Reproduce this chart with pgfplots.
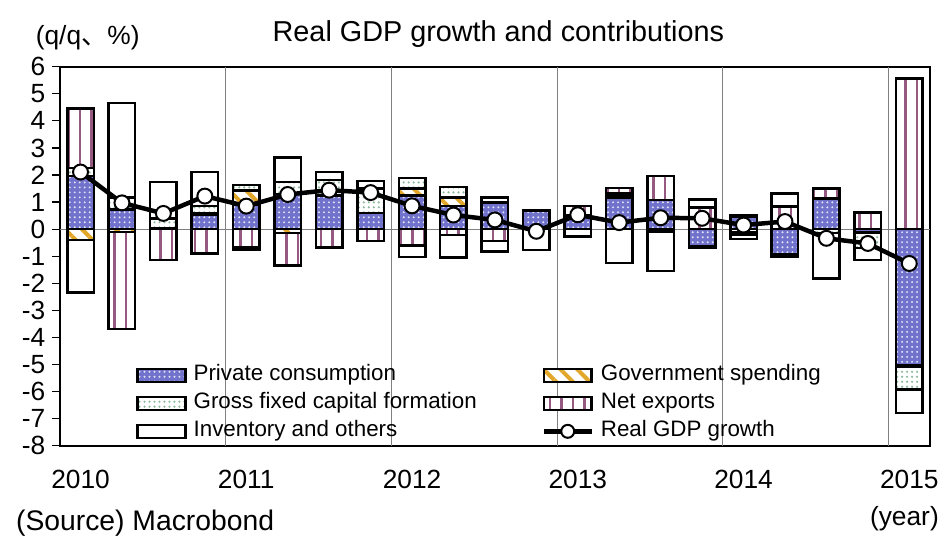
\documentclass[border=0pt]{standalone}
\usepackage{fontspec}
\setmainfont{Liberation Sans}
\newfontfamily\cjk{Noto Sans CJK JP}
\usepackage{pgfplots}
\usepackage{pgfplotstable}
\pgfplotsset{compat=1.18}
\usetikzlibrary{patterns.meta,calc}

\definecolor{pcblue}{RGB}{112,114,204}
\definecolor{govgold}{RGB}{226,166,40}
\definecolor{gfcfgreen}{RGB}{140,185,155}
\definecolor{nepurple}{RGB}{150,90,130}

\pgfplotstableread{
x pc gov gfcf ne inv
0 1.96 0 0.30 2.20 0
1 0.72 0 0.45 0 3.49
2 0.05 0 0.34 0 1.35
3 0.52 0.05 0.28 0 1.26
4 0.90 0.52 0.21 0 0
5 1.29 0 0.45 0 0.90
6 1.25 0 0.57 0 0.30
7 0.60 0 0.90 0 0.28
8 1.25 0.25 0.38 0 0
9 0.86 0.30 0.39 0 0
10 0.98 0 0.18 0 0
11 0.68 0 0 0 0
12 0.45 0 0.05 0.35 0
13 1.15 0.07 0.10 0.20 0
14 1.07 0 0 0.90 0
15 0 0 0 0.80 0.30
16 0.47 0 0 0.06 0
17 0 0 0 0.84 0.48
18 1.14 0 0 0.36 0
19 0 0 0 0.61 0
20 0 0 0 5.56 0
}\pos

\pgfplotstableread{
x pc gov gfcf ne inv
0 0 -0.40 0 0 -1.94
1 0 -0.10 0 -3.60 0
2 0 0 0 -1.14 0
3 0 0 0 -0.90 0
4 0 0 0 -0.68 -0.10
5 0 -0.15 0 -1.20 0
6 0 0 0 -0.68 0
7 0 0 0 -0.43 0
8 0 0 0 -0.60 -0.43
9 0 0 0 -0.22 -0.82
10 0 0 0 -0.43 -0.40
11 0 0 0 0 -0.77
12 0 0 0 0 -0.27
13 0 0 0 0 -1.26
14 0 -0.05 -0.05 0 -1.44
15 -0.62 -0.04 -0.04 0 0
16 0 -0.10 -0.10 0 -0.17
17 -0.92 -0.05 -0.05 0 0
18 0 0 -0.15 0 -1.68
19 -0.12 -0.03 -0.55 0 -0.44
20 -5.02 -0.05 -0.86 0 -0.86
}\neg

\pgfplotstableread{
x gdp
0 2.11
1 0.97
2 0.58
3 1.22
4 0.85
5 1.28
6 1.44
7 1.35
8 0.86
9 0.52
10 0.34
11 -0.08
12 0.53
13 0.24
14 0.42
15 0.40
16 0.15
17 0.28
18 -0.34
19 -0.53
20 -1.27
}\gdp

\pgfplotsset{
  myaxis/.style={scale only axis, width=873bp, height=380bp,
    xmin=-0.5, xmax=20.5, ymin=-8, ymax=6, enlargelimits=false},
  pcstyle/.style={draw=black, line width=2.5bp, preaction={fill=pcblue},
    pattern={Dots[distance=5bp,radius=1.1bp]}, pattern color=white!80!pcblue},
  govstyle/.style={draw=black, line width=2.5bp, preaction={fill=white},
    pattern={Lines[angle=-45,distance=12bp,line width=4bp]}, pattern color=govgold},
  gfcfstyle/.style={draw=black, line width=2.5bp, preaction={fill=white},
    pattern={Dots[distance=5bp,radius=1.2bp]}, pattern color=gfcfgreen},
  nestyle/.style={draw=black, line width=2.5bp, preaction={fill=white},
    pattern={Lines[angle=90,distance=11.5bp,line width=2.5bp]}, pattern color=nepurple},
  invstyle/.style={draw=black, line width=2.5bp, fill=white},
  barlegend/.style={legend image code/.code={\draw[##1] (0bp,-6.5bp) rectangle (48bp,6.5bp);}},
  gdplegend/.style={legend image code/.code={\draw[##1, mark repeat=2, mark phase=2, mark size=6.5bp] plot coordinates {(0bp,0bp) (24bp,0bp) (48bp,0bp)};}},
}

\begin{document}
\fontsize{22.5}{26}\selectfont
\begin{tikzpicture}
\begin{axis}[myaxis, name=main, ybar stacked, bar width=26.6bp,
  tick label style={font=\fontsize{26.5}{31}\selectfont},
  ytick={-8,-7,...,6}, ytick pos=left, tick align=outside, major tick length=8bp,
  ytick style={black, line width=1.2bp},
  yticklabel style={xshift=1bp},
  xtick={0,4,8,12,16,20}, xticklabels={2010,2011,2012,2013,2014,2015},
  xtick style={draw=none}, xticklabel style={anchor=base, yshift=-35bp},
  extra x ticks={3.5,7.5,11.5,15.5,19.5}, extra x tick labels={},
  extra x tick style={grid=major, major tick length=0pt, major grid style={gray, line width=0.9bp}},
  extra y ticks={0}, extra y tick labels={},
  extra y tick style={grid=major, major grid style={gray, line width=0.9bp}},
  axis line style={line width=2bp},
  /pgf/number format/assume math mode=true,
]
\addplot[pcstyle] table[x=x,y=pc]{\pos};
\addplot[govstyle] table[x=x,y=gov]{\pos};
\addplot[gfcfstyle] table[x=x,y=gfcf]{\pos};
\addplot[nestyle] table[x=x,y=ne]{\pos};
\addplot[invstyle] table[x=x,y=inv]{\pos};
\end{axis}
\begin{axis}[myaxis, hide axis, ybar stacked, bar width=26.6bp]
\addplot[pcstyle] table[x=x,y=pc]{\neg};
\addplot[govstyle] table[x=x,y=gov]{\neg};
\addplot[gfcfstyle] table[x=x,y=gfcf]{\neg};
\addplot[nestyle] table[x=x,y=ne]{\neg};
\addplot[invstyle] table[x=x,y=inv]{\neg};
\end{axis}
\begin{axis}[myaxis, hide axis,
  legend columns=2, legend cell align=left,
  legend style={at={(0.0877,0.221)}, anchor=north west, draw=none, fill=none,
    inner sep=0pt, row sep=1bp,
    /tikz/every odd column/.append style={column sep=4bp},
    /tikz/every even column/.append style={column sep=62bp},
    nodes={inner sep=3bp, text height=16bp, text depth=5bp}},
]
\addlegendimage{pcstyle, barlegend}
\addlegendentry{Private consumption}
\addlegendimage{govstyle, barlegend}
\addlegendentry{Government spending}
\addlegendimage{gfcfstyle, barlegend}
\addlegendentry{Gross fixed capital formation}
\addlegendimage{nestyle, barlegend}
\addlegendentry{Net exports}
\addlegendimage{invstyle, barlegend}
\addlegendentry{Inventory and others}
\addplot[black, line width=4.5bp, mark=*, mark size=7.5bp,
  mark options={fill=white, draw=black, line width=2bp}, gdplegend]
  table[x=x,y=gdp]{\gdp};
\addlegendentry{Real GDP growth}
\end{axis}
\node[anchor=base, font=\fontsize{26.5}{31}\selectfont] at ($(main.north west)+(28bp,22bp)$) {(q/q{\cjk 、}\%)};
\node[anchor=base, font=\fontsize{29}{34}\selectfont] at ($(main.north west)+(440bp,25bp)$) {Real GDP growth and contributions};
\node[anchor=base west, inner sep=0pt, font=\fontsize{28.5}{33}\selectfont] at ($(main.south west)+(-44bp,-85bp)$) {(Source) Macrobond};
\node[anchor=base east, inner sep=0pt, font=\fontsize{26.5}{31}\selectfont] at ($(main.south east)+(9bp,-80bp)$) {(year)};
\path ($(main.south west)+(-60bp,-91bp)$) rectangle ($(main.north east)+(13bp,67bp)$);
\end{tikzpicture}
\end{document}
